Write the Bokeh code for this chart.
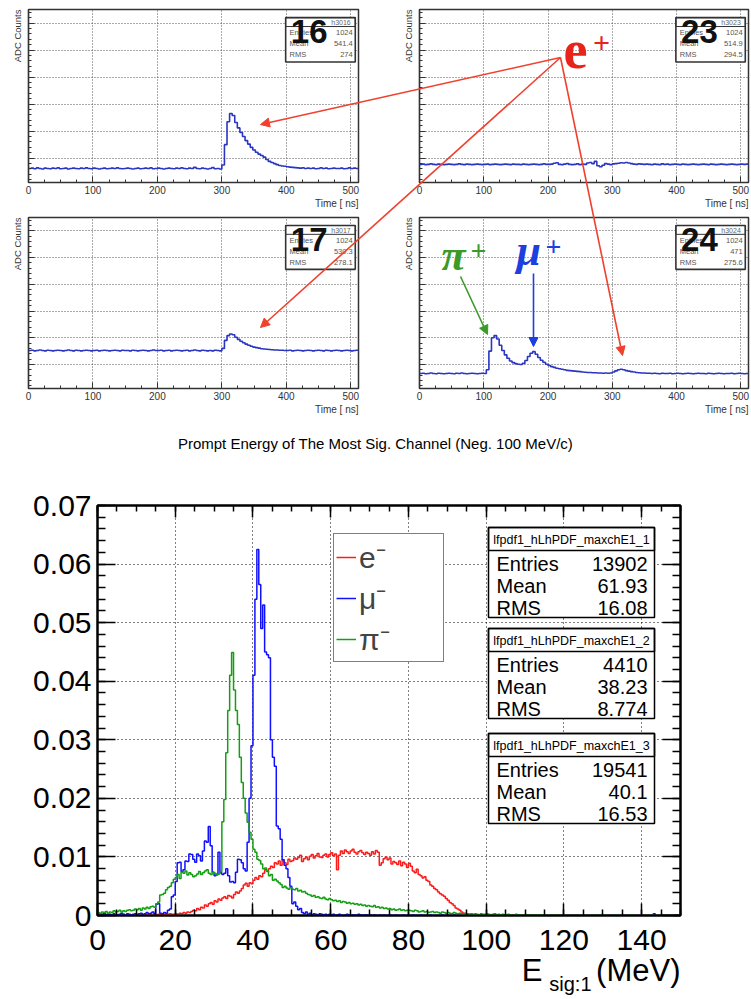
import math
from bokeh.plotting import figure
from bokeh.layouts import column, row
from bokeh.models import (Label, Arrow, NormalHead, BoxAnnotation, LinearAxis, Legend,
                          LegendItem, FixedTicker, Range1d, CustomJSTickFormatter)
from bokeh.embed import file_html
from bokeh.resources import INLINE

# ---------------- waveform data (top panels), ADC in arbitrary units, 4 ns samples --------------
wave_t = list(range(0, 512, 4))
wave_16 = [62, 63, 61, 64, 62, 60, 63, 62, 61, 63,
           62, 64, 61, 62, 63, 60, 62, 63, 62, 61,
           63, 62, 64, 62, 61, 63, 62, 60, 62, 63,
           61, 62, 63, 62, 64, 62, 61, 62, 63, 62,
           60, 62, 63, 61, 62, 63, 62, 64, 61, 62,
           63, 62, 60, 62, 63, 62, 61, 63, 62, 64,
           62, 61, 63, 62, 66, 62, 61, 63, 62, 60,
           62, 65, 61, 62, 60, 75, 150, 235, 265, 258,
           232, 212, 195, 180, 165, 152, 140, 130, 122, 115,
           110, 104, 95, 88, 84, 80, 76, 73, 71, 70,
           68, 67, 66, 65, 64, 63, 64, 62, 63, 62,
           63, 61, 62, 64, 62, 63, 61, 62, 63, 62,
           62, 63, 61, 62, 64, 62, 63, 62]
wave_23 = [77, 78, 76, 77, 79, 77, 76, 78, 77, 76,
           77, 78, 77, 76, 77, 79, 77, 76, 78, 77,
           76, 77, 78, 77, 76, 77, 78, 76, 77, 78,
           77, 76, 77, 78, 77, 76, 78, 77, 77, 76,
           78, 77, 76, 77, 78, 77, 76, 77, 79, 77,
           77, 78, 81, 83, 77, 76, 78, 80, 77, 76,
           77, 79, 76, 78, 77, 82, 84, 80, 88, 72,
           68, 74, 80, 78, 76, 79, 80, 81, 83, 82,
           84, 82, 80, 78, 77, 79, 78, 77, 78, 77,
           76, 78, 77, 76, 79, 77, 78, 76, 77, 78,
           77, 76, 78, 77, 76, 77, 78, 77, 76, 77,
           78, 77, 76, 78, 77, 76, 77, 78, 77, 76,
           77, 78, 77, 76, 77, 78, 77, 78]
wave_17 = [152, 153, 151, 152, 154, 152, 151, 153, 152, 151,
           152, 153, 152, 151, 152, 154, 152, 151, 153, 152,
           151, 152, 153, 152, 151, 152, 153, 151, 152, 153,
           152, 151, 152, 153, 152, 151, 153, 152, 152, 151,
           153, 152, 151, 152, 153, 152, 151, 152, 154, 152,
           152, 153, 151, 152, 153, 151, 152, 153, 152, 151,
           152, 153, 151, 152, 154, 152, 151, 153, 152, 151,
           152, 151, 153, 152, 151, 160, 190, 208, 214, 211,
           202, 194, 187, 181, 176, 172, 168, 165, 163, 161,
           159, 158, 157, 156, 155, 154, 154, 153, 153, 152,
           152, 153, 151, 152, 153, 152, 151, 152, 153, 152,
           151, 152, 153, 152, 151, 153, 152, 151, 152, 153,
           152, 151, 152, 153, 152, 151, 152, 153]
wave_24 = [66, 67, 65, 66, 68, 66, 65, 67, 66, 65,
           66, 67, 66, 65, 67, 66, 68, 66, 65, 66,
           67, 66, 65, 66, 67, 66, 80, 150, 200, 208,
           195, 172, 152, 136, 123, 113, 107, 103, 101, 100,
           104, 115, 130, 142, 148, 138, 126, 116, 108, 101,
           96, 92, 89, 86, 84, 82, 80, 78, 77, 76,
           75, 74, 73, 72, 71, 70, 70, 69, 69, 68,
           68, 67, 68, 67, 68, 72, 76, 80, 82, 80,
           77, 75, 73, 72, 70, 69, 68, 68, 67, 67,
           66, 67, 66, 65, 67, 66, 66, 67, 65, 66,
           67, 66, 65, 66, 67, 66, 65, 66, 67, 66,
           66, 65, 67, 66, 65, 66, 67, 66, 65, 66,
           66, 67, 65, 66, 67, 66, 65, 66]

channels = ["16", "23", "17", "24"]
hist_names = ["h3016", "h3023", "h3017", "h3024"]
entries_top = ["1024", "1024", "1024", "1024"]
means_top = ["541.4", "514.9", "530.3", "471"]
rms_top = ["274", "294.5", "278.1", "275.6"]

# ---------------- bottom histogram data (0.5 MeV bins, values x 1e-3) ----------------
e_minus_x1e3 = [
    0.0, 0.0, 0.1, 0.0, 0.0, 0.1, 0.0, 0.0, 0.0, 0.1, 0.0, 0.0, 0.1, 0.0, 0.1, 0.0, 0.0, 0.1, 0.0, 0.1,
    0.0, 0.1, 0.0, 0.1, 0.1, 0.0, 0.1, 0.1, 0.0, 0.1, 0.1, 0.2, 0.1, 0.1, 0.2, 0.1, 0.2, 0.3, 0.2, 0.2,
    0.3, 0.2, 0.4, 0.3, 0.5, 0.4, 0.6, 0.5, 0.7, 0.9, 0.8, 1.2, 1.0, 1.4, 1.3, 1.8, 1.6, 2.0, 2.2, 1.9,
    2.5, 2.3, 2.8, 2.6, 3.0, 3.2, 2.9, 3.4, 3.3, 3.0, 3.6, 4.0, 3.8, 4.2, 4.6, 5.2, 5.5, 5.0, 5.6, 5.4,
    6.0, 6.5, 6.2, 6.8, 6.6, 7.2, 7.8, 7.5, 8.0, 8.4, 8.2, 9.0, 8.8, 9.3, 8.6, 9.5, 9.0, 8.7, 9.6, 9.2,
    9.4, 9.8, 9.6, 9.9, 10.3, 9.2, 9.7, 10.0, 9.5, 10.1, 10.4, 9.8, 10.2, 10.6, 10.0, 9.9, 10.3, 10.5, 10.0, 10.4,
    10.7, 10.2, 10.5, 7.8, 10.3, 11.0, 10.6, 11.2, 10.9, 10.6, 11.0, 11.3, 10.8, 10.5, 10.9, 11.1, 10.7, 10.4, 10.8, 10.6,
    10.3, 10.9, 10.5, 11.1, 10.8, 8.6, 9.0, 9.7, 10.0, 9.5, 9.8, 8.8, 9.2, 9.0, 8.7, 9.3, 8.5, 9.1, 8.8, 8.2,
    8.9, 8.4, 7.6, 7.3, 7.9, 7.0, 6.8, 6.4, 6.6, 6.0, 5.8, 5.2, 5.0, 4.6, 4.4, 4.0, 3.7, 3.5, 3.3, 2.9,
    2.6, 2.2, 2.0, 1.7, 1.3, 1.1, 0.9, 0.6, 0.4, 0.3, 0.3, 0.2, 0.2, 0.1, 0.1, 0.1, 0.0, 0.1, 0.0, 0.1,
    0.0, 0.1, 0.0, 0.0, 0.1, 0.0, 0.0, 0.0, 0.1, 0.0, 0.0, 0.0, 0.0, 0.1, 0.0, 0.0, 0.0, 0.0, 0.0, 0.0,
    0.0, 0.0, 0.1, 0.0, 0.0, 0.0, 0.0, 0.0, 0.0, 0.0, 0.0, 0.0, 0.0, 0.0, 0.0, 0.1, 0.0, 0.0, 0.0, 0.0,
    0.0, 0.0, 0.0, 0.0, 0.0, 0.0, 0.0, 0.0, 0.0, 0.0, 0.0, 0.0, 0.0, 0.0, 0.0, 0.0, 0.0, 0.0, 0.0, 0.0,
    0.0, 0.0, 0.0, 0.0, 0.0, 0.0, 0.0, 0.0, 0.0, 0.0, 0.0, 0.0, 0.0, 0.0, 0.0, 0.0, 0.0, 0.0, 0.0, 0.0,
    0.0, 0.0, 0.0, 0.0, 0.0, 0.0, 0.0, 0.0, 0.0, 0.0, 0.0, 0.0, 0.0, 0.0, 0.0, 0.0, 0.0, 0.0, 0.0, 0.0]
mu_minus_x1e3 = [
    0.4, 0.3, 0.2, 0.4, 0.1, 0.3, 0.2, 0.0, 0.3, 0.2, 0.1, 0.2, 0.4, 0.2, 0.1, 0.3, 0.2, 0.1, 0.2, 0.3,
    0.2, 0.3, 0.4, 0.2, 0.3, 0.5, 0.3, 0.4, 0.6, 0.3, 1.9, 2.0, 0.4, 0.3, 0.5, 0.4, 0.9, 1.1, 3.2, 3.5,
    5.8, 9.0, 9.1, 7.5, 7.8, 9.3, 9.2, 10.5, 10.4, 9.6, 9.1, 10.5, 10.2, 9.3, 11.0, 12.7, 12.5, 15.2, 11.9, 7.4,
    6.8, 7.0, 10.8, 7.3, 7.0, 7.2, 8.0, 6.8, 5.7, 5.8, 5.6, 7.4, 9.6, 9.5, 9.0, 8.0, 7.6, 12.5, 20.0, 29.0,
    41.0, 54.0, 62.5, 56.5, 49.0, 53.0, 45.0, 44.5, 44.0, 30.0, 27.0, 25.5, 15.3, 14.8, 13.0, 9.5, 8.6, 8.0, 6.5, 5.0,
    2.0, 2.3, 1.6, 1.0, 1.2, 0.5, 0.3, 0.6, 0.2, 0.4, 0.1, 0.3, 0.2, 0.1, 0.3, 0.2, 0.1, 0.2, 0.1, 0.2,
    0.1, 0.2, 0.0, 0.1, 0.2, 0.1, 0.0, 0.1, 0.2, 0.1, 0.0, 0.1, 0.1, 0.0, 0.2, 0.1, 0.0, 0.1, 0.1, 0.0,
    0.1, 0.0, 0.1, 0.0, 0.0, 0.1, 0.0, 0.1, 0.0, 0.0, 0.1, 0.0, 0.0, 0.1, 0.0, 0.0, 0.0, 0.1, 0.0, 0.0,
    0.0, 0.0, 0.1, 0.0, 0.0, 0.0, 0.1, 0.0, 0.0, 0.0, 0.0, 0.1, 0.0, 0.0, 0.0, 0.0, 0.0, 0.1, 0.0, 0.0,
    0.0, 0.0, 0.0, 0.1, 0.0, 0.0, 0.0, 0.0, 0.0, 0.0, 0.1, 0.0, 0.0, 0.0, 0.0, 0.0, 0.0, 0.0, 0.0, 0.0,
    0.0, 0.0, 0.0, 0.0, 0.0, 0.1, 0.0, 0.0, 0.0, 0.0, 0.0, 0.0, 0.0, 0.0, 0.0, 0.0, 0.0, 0.0, 0.0, 0.0,
    0.0, 0.0, 0.0, 0.0, 0.0, 0.0, 0.0, 0.0, 0.0, 0.0, 0.0, 0.0, 0.0, 0.0, 0.0, 0.0, 0.0, 0.0, 0.0, 0.0,
    0.0, 0.0, 0.0, 0.0, 0.0, 0.0, 0.0, 0.0, 0.0, 0.0, 0.0, 0.0, 0.0, 0.0, 0.0, 0.0, 0.0, 0.0, 0.0, 0.0,
    0.0, 0.0, 0.0, 0.0, 0.0, 0.0, 0.0, 0.0, 0.0, 0.0, 0.0, 0.0, 0.0, 0.0, 0.0, 0.0, 0.0, 0.0, 0.0, 0.0,
    0.0, 0.0, 0.0, 0.0, 0.0, 0.0, 0.3, 0.0, 0.0, 0.0, 0.0, 0.0, 0.0, 0.0, 0.0, 0.0, 0.0, 0.0, 0.0, 0.0]
pi_minus_x1e3 = [
    0.5, 0.4, 0.6, 0.5, 0.7, 0.4, 0.6, 0.5, 0.8, 0.6, 0.7, 0.9, 0.6, 0.8, 0.7, 0.9, 1.0, 0.8, 0.9, 1.1,
    1.0, 1.2, 0.9, 1.3, 1.1, 1.4, 1.2, 1.5, 1.6, 1.4, 2.0, 2.3, 3.5, 3.6, 3.8, 4.4, 4.8, 5.0, 5.6, 6.2,
    6.5, 7.0, 6.3, 7.4, 7.2, 7.6, 6.9, 7.3, 7.0, 6.6, 6.8, 7.1, 7.5, 7.0, 7.3, 7.6, 7.8, 7.2, 7.0, 7.4,
    7.2, 6.9, 7.1, 7.5, 16.0, 19.8, 27.8, 35.0, 41.0, 44.9, 38.5, 35.0, 32.6, 27.0, 22.7, 20.0, 17.5, 15.9, 14.2, 13.0,
    11.3, 10.8, 9.6, 9.4, 8.8, 8.0, 8.1, 7.6, 6.8, 7.0, 6.0, 6.2, 5.9, 5.6, 5.3, 4.8, 5.0, 4.7, 4.5, 4.8,
    4.5, 4.4, 4.6, 4.2, 4.3, 4.0, 4.1, 3.8, 3.6, 3.5, 3.3, 3.4, 3.1, 3.2, 3.0, 2.9, 3.1, 2.8, 2.7, 2.9,
    2.7, 2.5, 2.6, 2.4, 2.5, 2.2, 2.4, 2.3, 2.1, 2.2, 2.0, 2.1, 1.9, 2.0, 1.8, 1.9, 1.7, 1.8, 1.6, 1.7,
    1.6, 1.5, 1.7, 1.4, 1.5, 1.3, 1.4, 1.2, 1.3, 1.1, 1.2, 1.0, 1.1, 0.9, 1.0, 1.1, 0.9, 1.0, 0.8, 0.9,
    0.9, 0.8, 0.7, 0.9, 0.8, 0.6, 0.7, 0.8, 0.6, 0.7, 0.5, 0.6, 0.7, 0.5, 0.6, 0.5, 0.4, 0.6, 0.5, 0.4,
    0.5, 0.4, 0.3, 0.5, 0.4, 0.3, 0.4, 0.3, 0.2, 0.4, 0.3, 0.2, 0.3, 0.2, 0.3, 0.2, 0.1, 0.3, 0.2, 0.2,
    0.3, 0.2, 0.1, 0.2, 0.3, 0.1, 0.2, 0.1, 0.2, 0.1, 0.1, 0.2, 0.1, 0.0, 0.1, 0.2, 0.1, 0.1, 0.0, 0.1,
    0.1, 0.0, 0.1, 0.1, 0.0, 0.1, 0.0, 0.1, 0.0, 0.1, 0.0, 0.0, 0.1, 0.0, 0.1, 0.0, 0.0, 0.1, 0.0, 0.0,
    0.1, 0.0, 0.0, 0.1, 0.0, 0.0, 0.0, 0.1, 0.0, 0.0, 0.0, 0.1, 0.0, 0.0, 0.0, 0.0, 0.1, 0.0, 0.0, 0.0,
    0.0, 0.1, 0.0, 0.0, 0.0, 0.0, 0.0, 0.1, 0.0, 0.0, 0.0, 0.0, 0.0, 0.0, 0.1, 0.0, 0.0, 0.0, 0.0, 0.0,
    0.0, 0.0, 0.0, 0.1, 0.0, 0.0, 0.0, 0.0, 0.0, 0.0, 0.0, 0.0, 0.1, 0.0, 0.0, 0.0, 0.0, 0.0, 0.0, 0.0]

hist_labels = ["e\u207b", "\u03bc\u207b", "\u03c0\u207b"]
stat_names = ["lfpdf1_hLhPDF_maxchE1_1", "lfpdf1_hLhPDF_maxchE1_2", "lfpdf1_hLhPDF_maxchE1_3"]
stat_entries = ["13902", "4410", "19541"]
stat_means = ["61.93", "38.23", "40.1"]
stat_rms = ["16.08", "8.774", "16.53"]

# ---------------- styling constants ----------------
SANS = "Liberation Sans"
SERIF = "Liberation Serif"
WAVE_COLOR = "#2a35c2"
ARROW_RED = "#f0402e"
PI_GREEN = "#3c9a28"
MU_BLUE = "#1d3fe0"
EMPTY_FMT = "return ''"

Y0, Y1 = 10, 650


def make_panel(width, height, borders, wave, idx):
    bl, br, bt, bb = borders
    p = figure(width=width, height=height, x_range=Range1d(0, 512), y_range=Range1d(Y0, Y1),
               min_border_left=bl, min_border_right=br, min_border_top=bt, min_border_bottom=bb,
               output_backend="svg", toolbar_location=None)
    p.step(wave_t + [512], wave + [wave[-1]], mode="after", line_color=WAVE_COLOR, line_width=1.6)
    xt = FixedTicker(ticks=[0, 100, 200, 300, 400, 500], minor_ticks=list(range(0, 513, 25)))
    yt = FixedTicker(ticks=[100, 200, 300, 400, 500, 600], minor_ticks=list(range(20, 650, 20)))
    p.xaxis.ticker = xt
    p.xgrid.ticker = xt
    p.yaxis.ticker = yt
    p.ygrid.ticker = yt
    for ax in (p.xaxis[0], p.yaxis[0]):
        ax.axis_line_color = "#333333"
        ax.axis_line_width = 1.2
        ax.major_tick_line_color = "#333333"
        ax.minor_tick_line_color = "#333333"
        ax.major_tick_out = 0
        ax.minor_tick_out = 0
        ax.major_tick_in = 6
        ax.minor_tick_in = 3
    p.yaxis.formatter = CustomJSTickFormatter(code=EMPTY_FMT)
    p.xaxis.major_label_text_font_size = "10px"
    p.xaxis.major_label_text_font = SANS
    p.xaxis.major_label_text_color = "#333333"
    p.xaxis.major_label_standoff = 3
    p.grid.grid_line_color = "#555555"
    p.grid.grid_line_dash = "1 2"
    p.grid.grid_line_width = 1
    p.outline_line_color = "#333333"
    p.outline_line_width = 1.5
    p.background_fill_color = "white"
    p.border_fill_color = "white"
    # stats box
    p.add_layout(BoxAnnotation(left=399, right=507, top=620, bottom=456, fill_color="white",
                               fill_alpha=1, line_color="#333333", line_width=1.6, line_alpha=1))
    p.add_layout(BoxAnnotation(left=399, right=507, top=620, bottom=587, fill_color="white",
                               fill_alpha=0, line_color="#333333", line_width=1, line_alpha=1))
    p.add_layout(Label(x=500, y=603, text=hist_names[idx], text_align="right",
                       text_baseline="middle", text_font=SANS, text_font_size="7px",
                       text_color="#666666"))
    for yy, nm, val in ((564, "Entries", entries_top[idx]), (523, "Mean", means_top[idx]),
                        (482, "RMS", rms_top[idx])):
        p.add_layout(Label(x=405, y=yy, text=nm, text_align="left", text_baseline="middle",
                           text_font=SANS, text_font_size="7.5px", text_color="#555555"))
        p.add_layout(Label(x=503, y=yy, text=val, text_align="right", text_baseline="middle",
                           text_font=SANS, text_font_size="7.5px", text_color="#555555"))
    p.add_layout(Label(x=407, y=568, text=channels[idx], text_align="left",
                       text_baseline="middle", text_font=SANS, text_font_size="33px",
                       text_font_style="bold", text_color="#111111"))
    return p


p16 = make_panel(375, 210, (28, 17, 9, 28), wave_16, 0)
p23 = make_panel(376, 210, (44, 3, 9, 28), wave_23, 1)
p17 = make_panel(375, 205, (28, 17, 7, 27), wave_17, 2)
p24 = make_panel(376, 205, (44, 3, 7, 27), wave_24, 3)

# ---------------- bottom histogram ----------------
FL, FR, FT, FB = 97, 680, 505, 915
p = figure(width=751, height=584, x_range=Range1d(0, 150), y_range=Range1d(0, 0.07),
           min_border_left=97, min_border_right=71, min_border_top=90, min_border_bottom=84,
           output_backend="svg", toolbar_location=None)


def bx(px):
    return (px - FL) / (FR - FL) * 150.0


def by(py):
    return (FB - py) / (FB - FT) * 0.07


edges = [0.5 * i for i in range(301)]
series = [(e_minus_x1e3, "#ff1a1a"), (mu_minus_x1e3, "#1010ff"), (pi_minus_x1e3, "#12a012")]
renderers = []
for vals, col in series:
    ys = [v * 1e-3 for v in vals]
    renderers.append(p.step(edges, ys + [ys[-1]], mode="after", line_color=col, line_width=1.5))

x_major = [0, 20, 40, 60, 80, 100, 120, 140]
x_minor = list(range(0, 151, 5))
y_major = [0, 0.01, 0.02, 0.03, 0.04, 0.05, 0.06, 0.07]
y_minor = [round(0.002 * i, 3) for i in range(36)]
xt = FixedTicker(ticks=x_major, minor_ticks=x_minor)
yt = FixedTicker(ticks=y_major, minor_ticks=y_minor)
p.xaxis.ticker = xt
p.xgrid.ticker = xt
p.yaxis.ticker = yt
p.ygrid.ticker = yt
p.add_layout(LinearAxis(ticker=xt, formatter=CustomJSTickFormatter(code=EMPTY_FMT)), "above")
p.add_layout(LinearAxis(ticker=yt, formatter=CustomJSTickFormatter(code=EMPTY_FMT)), "right")
for ax in p.xaxis + p.yaxis:
    ax.axis_line_color = "black"
    ax.axis_line_width = 2
    ax.major_tick_line_color = "black"
    ax.minor_tick_line_color = "black"
    ax.major_tick_line_width = 1.5
    ax.minor_tick_line_width = 1.5
    ax.major_tick_out = 0
    ax.minor_tick_out = 0
    ax.major_label_text_font = SANS
    ax.major_label_text_font_size = "30px"
    ax.major_label_text_color = "black"
for ax in p.xaxis:
    ax.major_tick_in = 12
    ax.minor_tick_in = 6
    ax.major_label_standoff = 14
for ax in p.yaxis:
    ax.major_tick_in = 18
    ax.minor_tick_in = 8
    ax.major_label_standoff = 6
p.below[0].major_label_overrides = {0: "0"}
p.left[0].major_label_overrides = {0: "0"}
p.grid.grid_line_color = "black"
p.grid.grid_line_dash = "1 3"
p.grid.grid_line_width = 1
p.outline_line_color = "black"
p.outline_line_width = 2
p.background_fill_color = "white"
p.border_fill_color = "white"

# stats boxes
box_tops = [527, 628, 733]
for i, top in enumerate(box_tops):
    p.add_layout(BoxAnnotation(left=bx(488), right=bx(654), top=by(top), bottom=by(top + 90),
                               fill_color="white", fill_alpha=1, line_color="black",
                               line_width=1.5, line_alpha=1))
    p.add_layout(BoxAnnotation(left=bx(488), right=bx(654), top=by(top), bottom=by(top + 23),
                               fill_alpha=0, line_color="black", line_width=1.5, line_alpha=1))
    p.add_layout(Label(x=bx(571), y=by(top + 12), text=stat_names[i], text_align="center",
                       text_baseline="middle", text_font=SANS, text_font_size="12.5px",
                       text_color="black"))
    for j, (nm, val) in enumerate((("Entries", stat_entries[i]), ("Mean", stat_means[i]),
                                   ("RMS", stat_rms[i]))):
        yy = by(top + 36 + 22 * j)
        p.add_layout(Label(x=bx(496), y=yy, text=nm, text_align="left", text_baseline="middle",
                           text_font=SANS, text_font_size="20px", text_color="black"))
        p.add_layout(Label(x=bx(647), y=yy, text=val, text_align="right", text_baseline="middle",
                           text_font=SANS, text_font_size="20px", text_color="black"))

legend = Legend(items=[LegendItem(label=hist_labels[i], renderers=[renderers[i]]) for i in range(3)],
                location=(236, 253), margin=0, padding=2, spacing=0, glyph_width=20,
                glyph_height=38, label_height=38, label_width=82, label_standoff=3,
                label_text_font=SANS, label_text_font_size="30px", border_line_color="black",
                border_line_width=1.5, background_fill_color="white", background_fill_alpha=1)
p.add_layout(legend)

# ---------------- transparent overlay in page pixels for titles, labels, arrows ----------------
ov = figure(width=751, height=999, x_range=Range1d(0, 751), y_range=Range1d(999, 0),
            min_border=0, min_border_left=0, min_border_right=0, min_border_top=0,
            min_border_bottom=0, x_axis_location=None, y_axis_location=None,
            output_backend="svg", toolbar_location=None)
ov.grid.visible = False
ov.outline_line_color = None
ov.background_fill_alpha = 0
ov.border_fill_alpha = 0


def text(px, py, s, size, color="black", font=SANS, style="normal", align="left",
         baseline="middle", angle=0.0):
    ov.add_layout(Label(x=px, y=py, text=s, text_font=font, text_font_size=size,
                        text_font_style=style, text_color=color, text_align=align,
                        text_baseline=baseline, angle=angle))


def arrow(start, end, color):
    ov.add_layout(Arrow(x_start=start[0], y_start=start[1], x_end=end[0], y_end=end[1],
                        line_color=color, line_width=1.6,
                        end=NormalHead(size=9, fill_color=color, line_color=color, line_width=1)))


# axis titles of the four small panels
for frame_right, frame_left, frame_top, frame_bottom in ((358, 28, 9, 182), (748, 419, 9, 182),
                                                        (358, 28, 217, 388), (748, 419, 217, 388)):
    text(frame_right, frame_bottom + 21, "Time [ ns]", "10px", "#333333", align="right")
    text(frame_left - 11, frame_top, "ADC Counts", "9.5px", "#333333", align="right",
         angle=math.pi / 2)

# particle annotations
E_ANCHOR = (560, 57)
for tip in ((260, 124), (260, 327), (622, 355)):
    arrow(E_ANCHOR, tip, ARROW_RED)
arrow((460, 276), (487, 334), PI_GREEN)
arrow((533, 273), (533, 346), MU_BLUE)
text(563, 49, "e", "54px", "#e8231a", font=SERIF, style="bold")
text(601, 43, "+", "30px", "#e8231a", font=SERIF, style="bold", align="center")
text(441, 255, "\u03c0", "44px", PI_GREEN, font=SERIF, style="bold italic")
text(478, 250, "+", "28px", PI_GREEN, font=SERIF, style="bold", align="center")
text(516, 250, "\u03bc", "44px", MU_BLUE, font=SERIF, style="bold italic")
text(553, 246, "+", "28px", MU_BLUE, font=SERIF, style="bold", align="center")

# bottom chart title and x axis title
text(375, 443, "Prompt Energy of The Most Sig. Channel (Neg. 100 MeV/c)", "15px", align="center")
text(542, 970, "E", "31px", align="right")
text(591, 983, "sig:1", "20px", align="right")
text(680, 970, "(MeV)", "31px", align="right")

overlay_row = row(ov, margin=(-999, 0, 0, 0))
layout = column(row(p16, p23), row(p17, p24), p, overlay_row)
open("out.html", "w").write(file_html(layout, INLINE))
